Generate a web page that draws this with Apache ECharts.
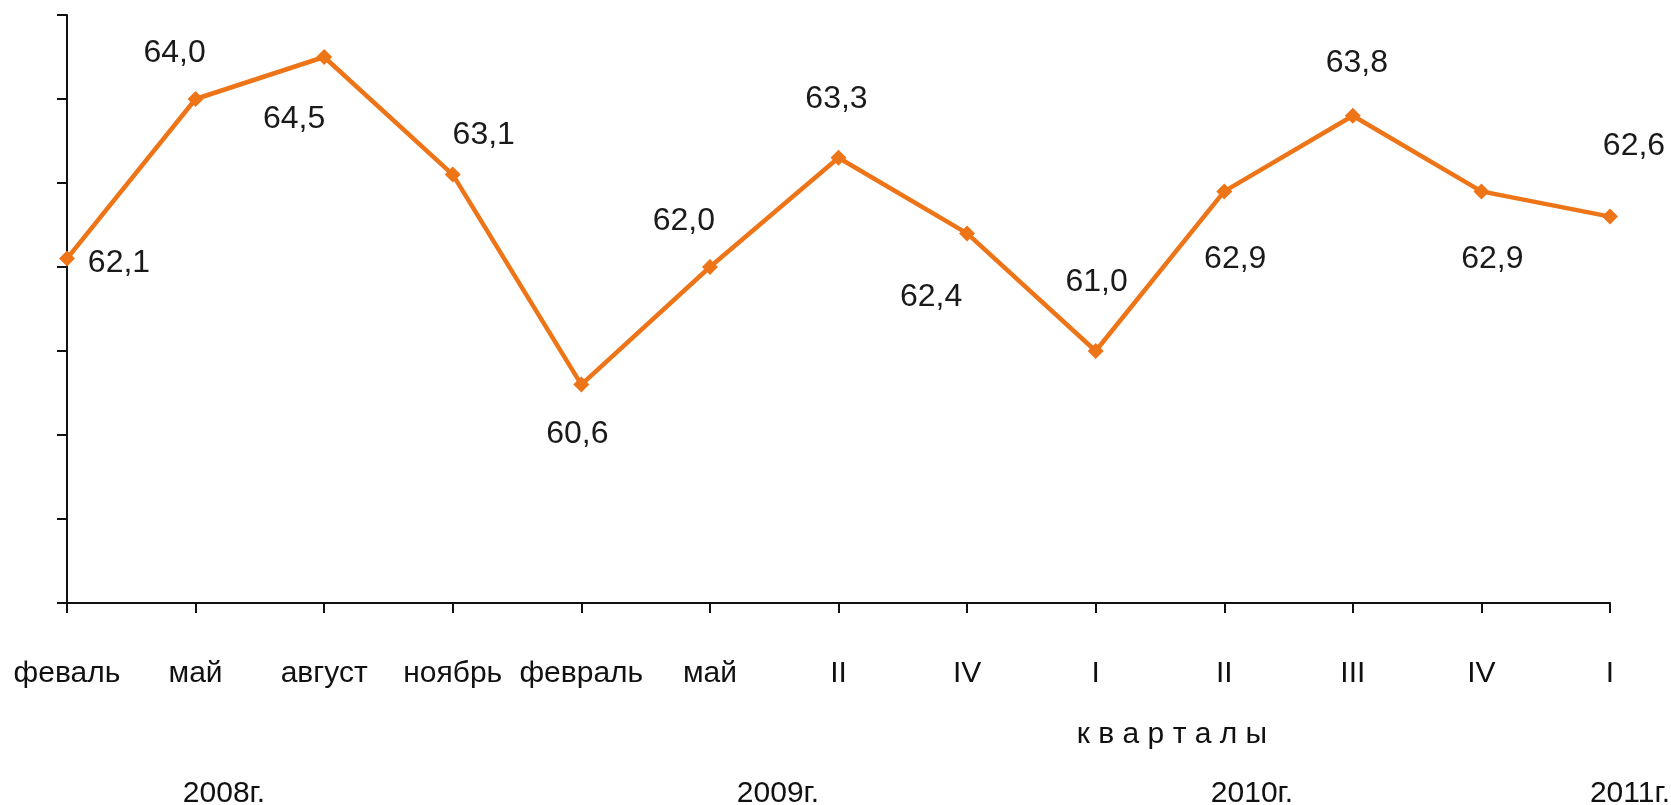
<!DOCTYPE html>
<html>
<head>
<meta charset="utf-8">
<script src="https://cdn.jsdelivr.net/npm/echarts@6/dist/echarts.min.js"></script>
<style>
  html, body { margin: 0; padding: 0; background: #fff; }
  #chart { width: 1671px; height: 805px; }
</style>
</head>
<body>
<div id="chart"></div>
<script>
// periods along the x axis (months for 2008-2009, then quarters)
const categories = ["феваль", "май", "август", "ноябрь", "февраль", "май", "II", "IV", "I", "II", "III", "IV", "I"];
const values = [62.1, 64.0, 64.5, 63.1, 60.6, 62.0, 63.3, 62.4, 61.0, 62.9, 63.8, 62.9, 62.6];
const yearLabels = ["2008г.", "2009г.", "2010г.", "2011г."];
const quarterCaption = "к в а р т а л ы";
const yMin = 58, yMax = 65, yStep = 1;

// where each value label sits relative to its point
const labelOffsets = [[52, 5], [-21, -46], [-30, 62], [31, -39], [-4, 50], [-26, -46], [-2, -59],
  [-36, 64], [1, -69], [11, 68], [4, -53], [11, 68], [24, -70]];
const yearX = [224, 778, 1252, 1630];

const chart = echarts.init(document.getElementById("chart"));

const points = values.map(function (v, i) {
  return {
    value: v,
    label: { offset: labelOffsets[i] }
  };
});

const option = {
  animation: false,
  grid: { left: 67, right: 61, top: 15, bottom: 202 },
  xAxis: {
    type: "category",
    data: categories,
    boundaryGap: false,
    axisLine: { lineStyle: { color: "#111", width: 2 } },
    axisTick: { show: true, length: 10, alignWithLabel: true, lineStyle: { color: "#111", width: 2 } },
    axisLabel: {
      interval: 0,
      margin: 56,
      fontFamily: "Liberation Sans",
      fontSize: 30,
      color: "#111"
    }
  },
  yAxis: {
    type: "value",
    min: yMin,
    max: yMax,
    interval: yStep,
    axisLine: { show: true, lineStyle: { color: "#111", width: 2 } },
    axisTick: { show: true, length: 10, lineStyle: { color: "#111", width: 2 } },
    axisLabel: { show: false },
    splitLine: { show: false }
  },
  series: [{
    type: "line",
    data: points,
    symbol: "diamond",
    symbolSize: 16,
    lineStyle: { color: "#EE7418", width: 4.5 },
    itemStyle: { color: "#EE7418" },
    label: {
      show: true,
      position: "inside",
      align: "center",
      verticalAlign: "middle",
      fontFamily: "Liberation Sans",
      fontSize: 32,
      color: "#1a1a1a",
      formatter: function (p) { return p.value.toFixed(1).replace(".", ","); }
    }
  }],
  graphic: [{
    type: "text",
    x: 1172,
    y: 735,
    style: {
      text: quarterCaption,
      font: "30px Liberation Sans",
      fill: "#111",
      align: "center",
      verticalAlign: "middle"
    }
  }].concat(yearLabels.map(function (t, i) {
    return {
      type: "text",
      x: yearX[i],
      y: 794,
      style: {
        text: t,
        font: "30px Liberation Sans",
        fill: "#111",
        align: "center",
        verticalAlign: "middle"
      }
    };
  }))
};

chart.setOption(option);
</script>
</body>
</html>
